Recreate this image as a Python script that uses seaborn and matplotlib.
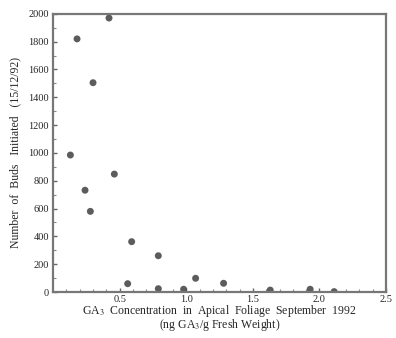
import numpy as np
import pandas as pd
import matplotlib
matplotlib.use("Agg")
import matplotlib.pyplot as plt
import seaborn as sns
from matplotlib.ticker import MultipleLocator

# GA3 concentration vs buds initiated
ga3 = [0.42, 0.18, 0.30, 0.13, 0.46, 0.24, 0.28, 0.59, 0.56, 0.79, 0.79,
       0.98, 1.07, 1.28, 1.63, 1.93, 2.11]
buds = [1970, 1820, 1505, 985, 848, 732, 580, 362, 60, 261, 24,
        20, 99, 63, 14, 20, 3]
x_ticks = [0.5, 1.0, 1.5, 2.0, 2.5]
y_ticks = list(range(0, 2001, 200))

df = pd.DataFrame({"ga3": ga3, "buds": buds})

sns.set_style("ticks")
plt.rcParams["font.family"] = ["Liberation Serif", "DejaVu Serif"]
plt.rcParams["mathtext.fontset"] = "stix"

fig = plt.figure(figsize=(3.96, 3.38), dpi=100)
ax = fig.add_axes([0.134, 0.136, 0.841, 0.823])

sns.scatterplot(data=df, x="ga3", y="buds", ax=ax, s=25, color="#4a4a4a",
                edgecolor="none", alpha=0.9, legend=False)

ax.set_xlim(0, 2.5)
ax.set_ylim(0, 2000)
ax.set_xticks(x_ticks)
ax.set_yticks(y_ticks)
ax.set_xticklabels(["0.5", "1.0", "1.5", "2.0", "2.5"])
ax.xaxis.set_minor_locator(MultipleLocator(0.1))
ax.yaxis.set_minor_locator(MultipleLocator(100))
ax.tick_params(axis="both", which="major", direction="in", length=3,
               width=1, labelsize=7.5, color="#666666", pad=3)
ax.tick_params(axis="x", which="major", pad=2)
ax.tick_params(axis="both", which="minor", direction="in", length=2,
               width=0.8, color="#888888")
for sp in ax.spines.values():
    sp.set_visible(True)
    sp.set_linewidth(1.6)
    sp.set_color("#777777")

ax.set_xlabel("GA$_3$  Concentration  in  Apical  Foliage  September  1992\n"
              "(ng GA$_3$/g Fresh Weight)", fontsize=8.5, linespacing=0.8,
              va="top")
ax.xaxis.set_label_coords(0.5, -0.04)
ax.set_ylabel("Number  of  Buds   Initiated   (15/12/92)", fontsize=8.5,
              labelpad=5)

fig.savefig("out.png", dpi=100)
